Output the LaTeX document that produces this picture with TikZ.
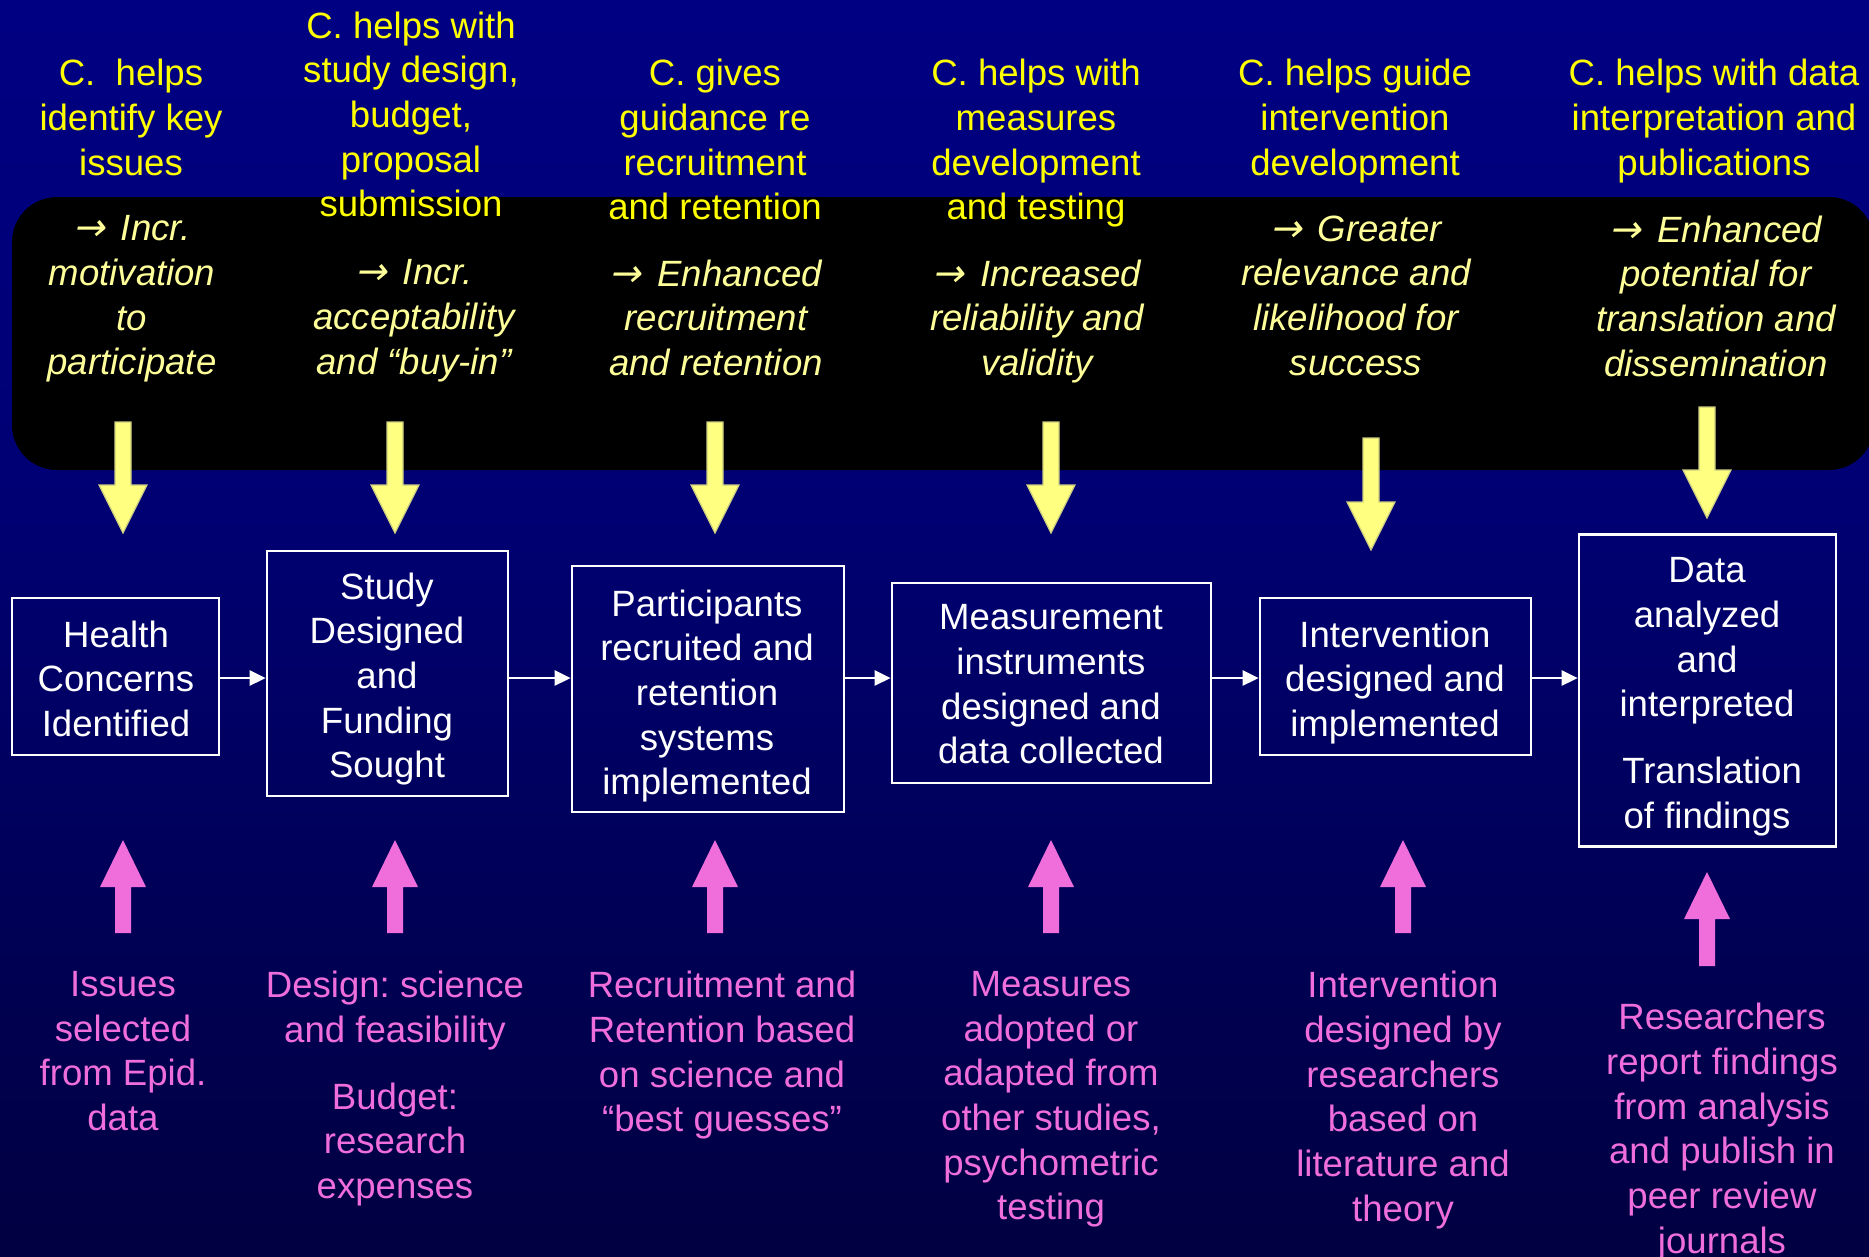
\documentclass[tikz,border=0pt]{standalone}
\usepackage{fontspec}
\setmainfont{Liberation Sans}
\newfontfamily\arrowfont[FakeSlant=0.2]{DejaVu Sans}
\usetikzlibrary{arrows.meta}
\definecolor{slideblue}{HTML}{000096}
\definecolor{slidemid}{HTML}{000073}
\definecolor{slidedeep}{HTML}{000050}
\definecolor{slidedark}{HTML}{03001E}
\definecolor{helpyellow}{HTML}{FFFF00}
\definecolor{gainyellow}{HTML}{FFFF99}
\definecolor{arrowyellow}{HTML}{FFFF80}
\definecolor{sourcepink}{HTML}{F06EDC}
\pgfdeclareverticalshading{slideshade}{100bp}{color(0bp)=(slidedark); color(35bp)=(slidedeep); color(55bp)=(slidemid); color(100bp)=(slideblue)}
\newcommand{\gainarrow}{{\arrowfont\fontsize{10.8}{12.7}\selectfont →}\hspace{0.15em}}
\frenchspacing

\begin{document}
\begin{tikzpicture}[x=0.01cm, y=-0.01cm,
    slidefont/.style={font=\fontsize{10.4}{12.7}\selectfont},
    helptext/.style={slidefont, helpyellow, align=center, anchor=north, inner sep=0pt},
    gaintext/.style={helptext, gainyellow, font=\fontsize{10.4}{12.7}\selectfont\itshape},
    sourcetext/.style={helptext, sourcepink},
    stagetext/.style={helptext, white},
    stage/.style={draw=white, line width=0.025cm, inner sep=0pt},
    flow/.style={white, line width=0.025cm, -{Triangle[length=0.16cm, width=0.15cm]}}]

    % ── BACKGROUND ────────────────────────────────────────────────────
    \fill[shading=slideshade] (0,0) rectangle (1869,1256);
    \useasboundingbox (0,0) rectangle (1869,1256);
    \fill[black, rounded corners=0.45cm] (12,197) rectangle (1874,470);

    % ── TOP: WHAT C. DOES ─────────────────────────────────────────────
    \node[helptext] (help1) at (131,58.5) {C.\ \ helps\\identify key\\issues};
    \node[helptext] (help2) at (411,11) {C. helps with\\study design,\\budget,\\proposal\\submission};
    \node[helptext] (help3) at (715,58.5) {C. gives\\guidance re\\recruitment\\and retention};
    \node[helptext] (help4) at (1036,58.5) {C. helps with\\measures\\development\\and testing};
    \node[helptext] (help5) at (1355,58.5) {C. helps guide\\intervention\\development};
    \node[helptext] (help6) at (1714,58.5) {C. helps with data\\interpretation and\\publications};

    \node[gaintext] (gain1) at (132,215) {\gainarrow{} Incr.\\motivation\\to\\participate};
    \node[gaintext] (gain2) at (414,259) {\gainarrow{} Incr.\\acceptability\\and “buy-in”};
    \node[gaintext] (gain3) at (716,259) {\gainarrow{} Enhanced\\recruitment\\and retention};
    \node[gaintext] (gain4) at (1037,259) {\gainarrow{} Increased\\reliability and\\validity};
    \node[gaintext] (gain5) at (1356,215) {\gainarrow{} Greater\\relevance and\\likelihood for\\success};
    \node[gaintext] (gain6) at (1716,215) {\gainarrow{} Enhanced\\potential for\\translation and\\dissemination};

    % yellow block arrows down to the stages
    \foreach \ax/\ay/\ah in {123/422/533, 395/422/533, 715/422/533, 1051/422/533, 1371/438/550, 1707/407/518}{
        \filldraw[fill=arrowyellow, draw=arrowyellow!60!gray, line width=0.012cm]
            (\ax-8,\ay) -- (\ax+8,\ay) -- (\ax+8,\ah-48) -- (\ax+24,\ah-48) -- (\ax,\ah)
            -- (\ax-24,\ah-48) -- (\ax-8,\ah-48) -- cycle;
    }

    % ── MIDDLE: RESEARCH STAGES ───────────────────────────────────────
    \node[stage, minimum width=2.07cm, minimum height=1.57cm] (health) at (115.5,676.5) {};
    \node[stage, minimum width=2.41cm, minimum height=2.45cm] (study) at (387.5,673.5) {};
    \node[stage, minimum width=2.72cm, minimum height=2.46cm] (recruit) at (708,689) {};
    \node[stage, minimum width=3.19cm, minimum height=2.00cm] (measure) at (1051.5,683) {};
    \node[stage, minimum width=2.71cm, minimum height=1.57cm] (interv) at (1395.5,676.5) {};
    \node[stage, minimum width=2.57cm, minimum height=3.12cm] (analysis) at (1707.5,690.5) {};

    \node[stagetext] (healthtxt) at (116,620) {Health\\Concerns\\Identified};
    \node[stagetext] (studytxt) at (387,572) {Study\\Designed\\and\\Funding\\Sought};
    \node[stagetext] (recruittxt) at (707,589) {Participants\\recruited and\\retention\\systems\\implemented};
    \node[stagetext] (measuretxt) at (1051,604) {Measurement\\instruments\\designed and\\data collected};
    \node[stagetext] (intervtxt) at (1395,620) {Intervention\\designed and\\implemented};
    \node[stagetext] (analysistxt) at (1707,557) {Data\\analyzed\\and\\interpreted\\[0.22cm]\ Translation\\of findings};

    \coordinate (row) at (0,678);
    \draw[flow] (health.east |- row) -- (study.west |- row);
    \draw[flow] (study.east |- row) -- (recruit.west |- row);
    \draw[flow] (recruit.east |- row) -- (measure.west |- row);
    \draw[flow] (measure.east |- row) -- (interv.west |- row);
    \draw[flow] (interv.east |- row) -- (analysis.west |- row);

    % ── BOTTOM: WHAT RESEARCHERS DO ───────────────────────────────────
    % pink block arrows up to the stages
    \foreach \ax/\ah/\ay in {123/840/933, 395/840/933, 715/840/933, 1051/840/933, 1403/840/933, 1707/872/966}{
        \fill[sourcepink] (\ax,\ah) -- (\ax+23,\ah+47) -- (\ax+8,\ah+47) -- (\ax+8,\ay)
            -- (\ax-8,\ay) -- (\ax-8,\ah+47) -- (\ax-23,\ah+47) -- cycle;
    }

    \node[sourcetext] (source1) at (123,970.5) {Issues\\selected\\from Epid.\\data};
    \node[sourcetext] (source2) at (395,970.5) {Design: science\\and feasibility\\[0.22cm]Budget:\\research\\expenses};
    \node[sourcetext] (source3) at (722,970.5) {Recruitment and\\Retention based\\on science and\\“best guesses”};
    \node[sourcetext] (source4) at (1051,970.5) {Measures\\adopted or\\adapted from\\other studies,\\psychometric\\testing};
    \node[sourcetext] (source5) at (1403,970.5) {Intervention\\designed by\\researchers\\based on\\literature and\\theory};
    \node[sourcetext] (source6) at (1722,1002.5) {Researchers\\report findings\\from analysis\\and publish in\\peer review\\journals};
\end{tikzpicture}
\end{document}
